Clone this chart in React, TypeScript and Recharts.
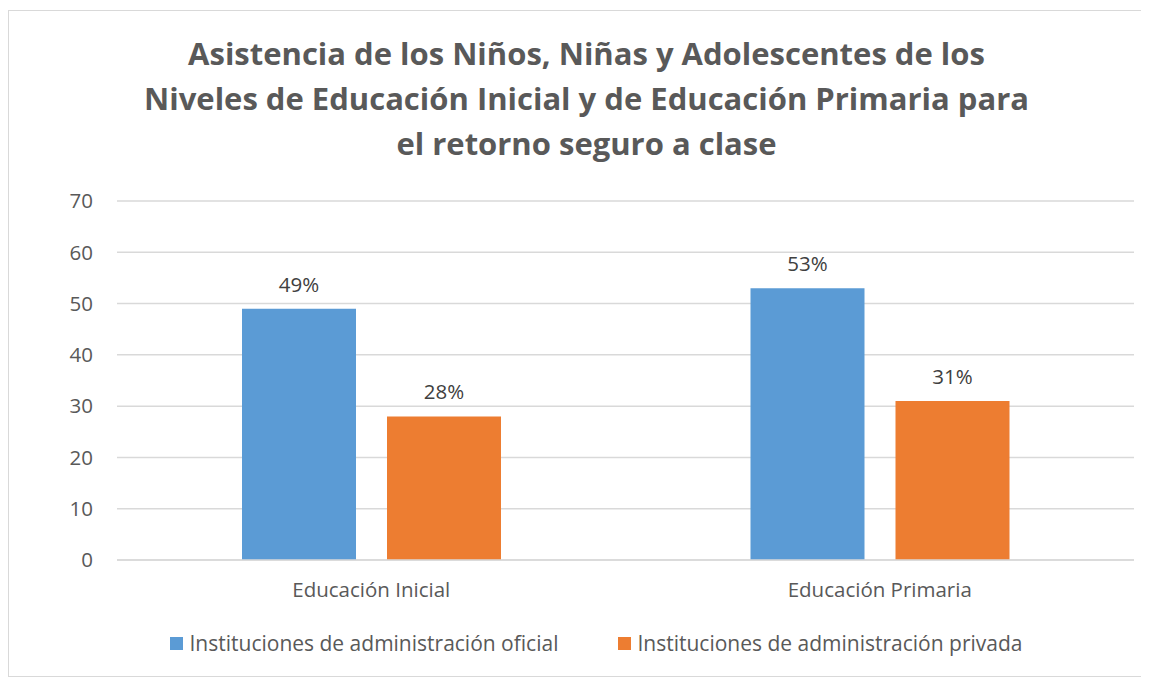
import React from 'react';
import { BarChart, Bar, XAxis, YAxis, CartesianGrid, LabelList, Legend } from 'recharts';

// Niveles educativos (categorías del eje X)
const niveles = ['Educación Inicial', 'Educación Primaria'];
// Porcentaje de asistencia por tipo de institución
const oficial = [49, 53];
const privada = [28, 31];
const yTicks = [0, 10, 20, 30, 40, 50, 60, 70];

const seriesNames = {
  oficial: 'Instituciones de administración oficial',
  privada: 'Instituciones de administración privada',
};

const BLUE = '#5B9BD5';
const ORANGE = '#ED7D31';
const TEXT = '#595959';
const FONT = '"Open Sans", sans-serif';

const data = niveles.map((nivel, i) => ({
  nivel,
  oficial: oficial[i],
  privada: privada[i],
}));

function CustomLegend() {
  const items = [
    { name: seriesNames.oficial, color: BLUE },
    { name: seriesNames.privada, color: ORANGE },
  ];
  return (
    <div style={{ display: 'flex', justifyContent: 'center', gap: 60, paddingLeft: 50 }}>
      {items.map((it) => (
        <div key={it.name} style={{ display: 'flex', alignItems: 'center', fontFamily: FONT, fontSize: 21, color: TEXT, whiteSpace: 'nowrap' }}>
          <span style={{ width: 13, height: 13, background: it.color, display: 'inline-block', marginRight: 6 }} />
          {it.name}
        </div>
      ))}
    </div>
  );
}

export default function App() {
  return (
    <div style={{ position: 'relative', marginTop: 2, width: 1141, height: 667, border: '1px solid #d9d9d9', boxSizing: 'border-box', background: '#fff' }}>
      <div
        style={{
          position: 'absolute',
          top: 20,
          left: 0,
          width: 1155,
          textAlign: 'center',
          fontFamily: FONT,
          fontWeight: 700,
          fontSize: 31,
          lineHeight: '45px',
          color: TEXT,
        }}
      >
        Asistencia de los Niños, Niñas y Adolescentes de los
        <br />
        Niveles de Educación Inicial y de Educación Primaria para
        <br />
        el retorno seguro a clase
      </div>
      <BarChart
        width={1139}
        height={665}
        data={data}
        margin={{ top: 190, right: 14, bottom: 58, left: 0 }}
        barCategoryGap="24.5%"
        barGap={31}
        barSize={114}
      >
        <CartesianGrid vertical={false} stroke="#d9d9d9" strokeWidth={1.5} />
        <XAxis
          dataKey="nivel"
          axisLine={{ stroke: '#d9d9d9', strokeWidth: 1.5 }}
          tickLine={false}
          tickSize={0}
          tickMargin={22}
          tick={{ fill: TEXT, fontSize: 20.5, fontFamily: FONT }}
        />
        <YAxis
          width={108}
          domain={[0, 70]}
          ticks={yTicks}
          axisLine={false}
          tickLine={false}
          tickSize={0}
          tickMargin={24}
          tick={{ fill: TEXT, fontSize: 20.5, fontFamily: FONT }}
        />
        <Legend verticalAlign="bottom" content={<CustomLegend />} wrapperStyle={{ bottom: 19 }} />
        <Bar dataKey="oficial" name={seriesNames.oficial} fill={BLUE} isAnimationActive={false}>
          <LabelList dataKey="oficial" position="top" offset={17} formatter={(v: number) => `${v}%`} style={{ fill: '#404040', fontSize: 20.5, fontFamily: FONT }} />
        </Bar>
        <Bar dataKey="privada" name={seriesNames.privada} fill={ORANGE} isAnimationActive={false}>
          <LabelList dataKey="privada" position="top" offset={17} formatter={(v: number) => `${v}%`} style={{ fill: '#404040', fontSize: 20.5, fontFamily: FONT }} />
        </Bar>
      </BarChart>
    </div>
  );
}
